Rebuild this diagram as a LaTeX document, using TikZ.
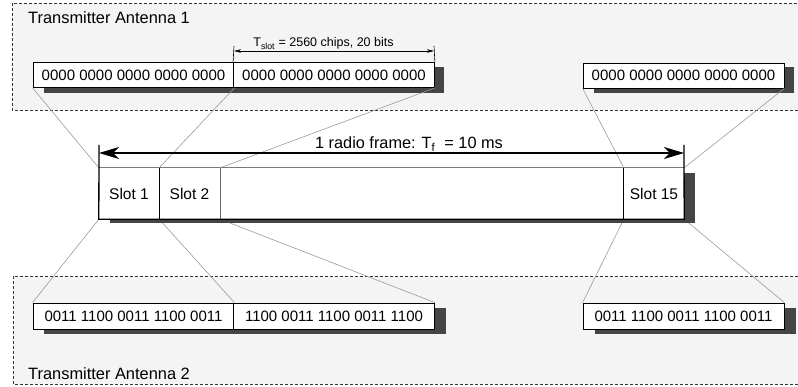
\documentclass[tikz,border=0pt]{standalone}
\usepackage{fontspec}
\setmainfont{Liberation Sans}
\usetikzlibrary{arrows.meta}
\definecolor{shade}{HTML}{454545}
\definecolor{panel}{HTML}{F4F4F4}
\definecolor{linkgray}{HTML}{9A9A9A}
\tikzset{
  bigtip/.tip={Stealth[length=20pt,width=12pt,inset=6pt]},
  smalltip/.tip={Stealth[length=7pt,width=3.5pt,inset=2pt]}
}

\begin{document}
\begin{tikzpicture}[x=1pt,y=-1pt,
  panelbox/.style={draw=black!80, dash pattern=on 3pt off 2pt, fill=panel, line width=0.6pt},
  bitbox/.style={draw=black, fill=white, line width=0.8pt, minimum width=201pt,
    minimum height=25pt, inner sep=0pt, font=\fontsize{15}{18}\selectfont},
  slotbox/.style={minimum height=51pt, inner sep=0pt, font=\fontsize{15.5}{18}\selectfont},
  shadowfill/.style={fill=shade},
  linkline/.style={draw=linkgray, line width=0.6pt},
  titletext/.style={anchor=base west, inner sep=0pt, font=\fontsize{16.4}{19}\selectfont}
]
\useasboundingbox (0,0) rectangle (798,387);
\clip (0,0) rectangle (798,387);

% antenna panels
\path[panelbox] (12,3) rectangle (805,110);
\path[panelbox] (13,276) rectangle (805,384);
\node[titletext] (title1) at (28,24) {Transmitter Antenna 1};
\node[titletext] (title2) at (28,379) {Transmitter Antenna 2};

% frame slots (positions only; borders drawn below)
\node[slotbox, minimum width=60pt] (slot1) at (129,193.5) {};
\node[slotbox, minimum width=61pt] (slot2) at (189.5,193.5) {};
\node[slotbox, minimum width=404pt] (gap) at (422,193.5) {};
\node[slotbox, minimum width=60pt] (slot15) at (654,193.5) {};

% bit boxes of antenna 1 and 2
\fill[shadowfill] (44,67) rectangle (444,93);
\fill[shadowfill] (594,67) rectangle (794,93);
\fill[shadowfill] (44,308) rectangle (446,334);
\fill[shadowfill] (595,308) rectangle (796,334);
\node[bitbox] (a1) at (133.5,75) {0000 0000 0000 0000 0000};
\node[bitbox] (a2) at (334,75) {0000 0000 0000 0000 0000};
\node[bitbox] (a3) at (683.5,75.5) {0000 0000 0000 0000 0000};
\node[bitbox, minimum height=26pt] (b1) at (133.5,316) {0011 1100 0011 1100 0011};
\node[bitbox, minimum height=26pt] (b2) at (334,316) {1100 0011 1100 0011 1100};
\node[bitbox, minimum height=26pt] (b3) at (683.5,316) {0011 1100 0011 1100 0011};

% connectors from slots to bit boxes
\draw[linkline] (a1.south west) -- (slot1.north west);
\draw[linkline] (a1.south east) -- (slot1.north east);
\draw[linkline] (a2.south east) -- (slot2.north east);
\draw[linkline] (a3.south west) -- (slot15.north west);
\draw[linkline] (a3.south east) -- (slot15.north east);
\draw[linkline] (slot1.south west) -- (b1.north west);
\draw[linkline] (slot1.south east) -- (b1.north east);
\draw[linkline] (slot2.south east) -- (b2.north east);
\draw[linkline] (slot15.south west) -- (b3.north west);
\draw[linkline] (slot15.south east) -- (b3.north east);

% slot duration
\coordinate (tsL) at (234,46);
\coordinate (tsR) at (434,46);
\draw[line width=0.6pt] (tsL) -- (a2.north west);
\draw[line width=0.6pt] (tsR) -- (a2.north east);
\draw[line width=0.6pt, smalltip-smalltip] (234,51) -- (434,51);
\node[anchor=base, font=\fontsize{12.5}{15}\selectfont] (tslot) at (323.5,47) {T\textsubscript{slot} = 2560 chips, 20 bits};

% radio frame
\fill[shadowfill] (110,173) rectangle (695,223);
\fill[white] (slot1.north west) rectangle (slot15.south east);
\node[slotbox] at (slot1) {Slot 1};
\node[slotbox] at (slot2) {Slot 2};
\node[slotbox] at (slot15) {Slot 15};
\draw[linkgray!80!black, line width=1pt] (slot1.north west) -- (slot15.north east);
\draw[line width=1pt] (slot1.north east) -- (slot1.south east);
\draw[black!60, line width=0.8pt] (slot2.north east) -- (slot2.south east);
\draw[line width=0.8pt] (slot15.north west) -- (slot15.south west);
\coordinate (fL) at (99,145);
\coordinate (fR) at (684,145);
\draw[line width=1.3pt] (fL) -- (slot1.south west) -- (slot15.south east) -- (fR);
\draw[line width=1.3pt, bigtip-bigtip] (99,153) -- (684,153);
\node[anchor=base, font=\fontsize{16.3}{19}\selectfont] (frame) at (409,148.5) {1 radio frame: T\textsubscript{f}\ \ = 10 ms};
\end{tikzpicture}
\end{document}
